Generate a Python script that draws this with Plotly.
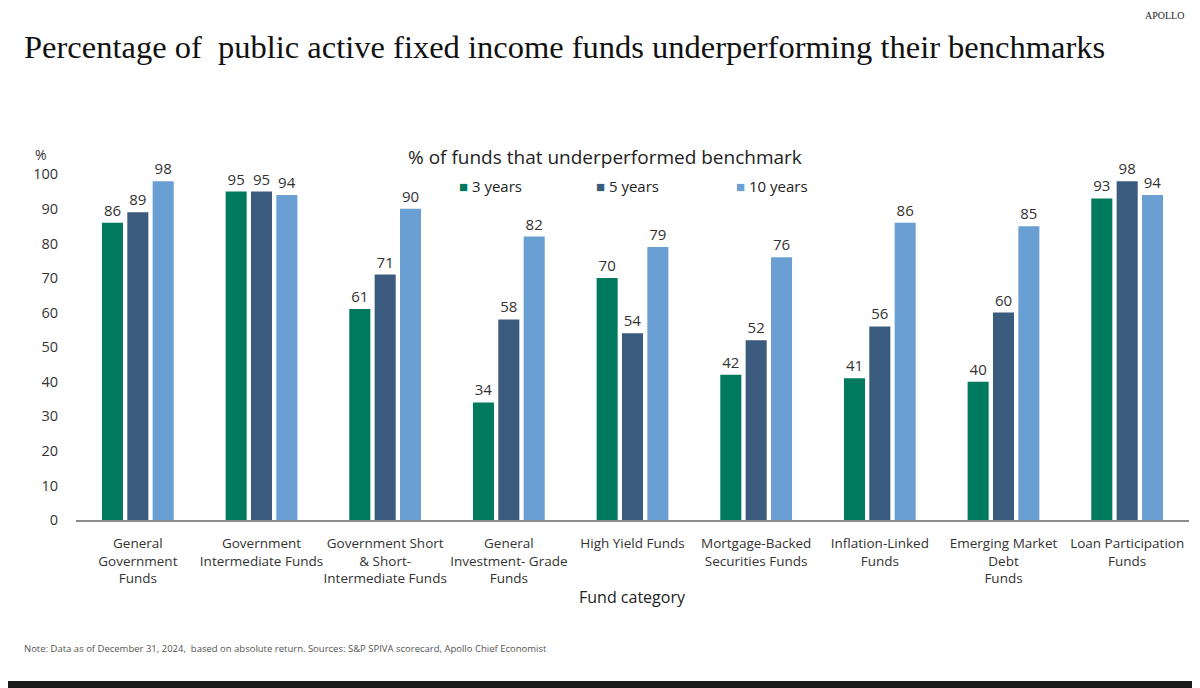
import plotly.graph_objects as go

categories = [
    "General<br>Government<br>Funds",
    "Government<br>Intermediate Funds",
    "Government Short<br>& Short-<br>Intermediate Funds",
    "General<br>Investment- Grade<br>Funds",
    "High Yield Funds",
    "Mortgage-Backed<br>Securities Funds",
    "Inflation-Linked<br>Funds",
    "Emerging Market<br>Debt<br>Funds",
    "Loan Participation<br>Funds",
]
series_names = ["3 years", "5 years", "10 years"]
vals_3y = [86, 95, 61, 34, 70, 42, 41, 40, 93]
vals_5y = [89, 95, 71, 58, 54, 52, 56, 60, 98]
vals_10y = [98, 94, 90, 82, 79, 76, 86, 85, 94]
colors = ["#007A5E", "#3A5A7E", "#6A9FD4"]
y_ticks = [0, 10, 20, 30, 40, 50, 60, 70, 80, 90, 100]

# page offset of the figure inside the browser page
OFF = 8
W, H = 1200, 688
# plot area in page pixels: x 76..1189, y 157..520
L = 76 - OFF
R = W - (1189 - OFF)
T = 157 - OFF
B = H - (520 - OFF)
PW, PH = W - L - R, H - T - B

def px(x):
    return (x - OFF - L) / PW

def py(y):
    return (H - B - (y - OFF)) / PH

SANS = "Open Sans"
fig = go.Figure()
for name, vals, col in zip(series_names, [vals_3y, vals_5y, vals_10y], colors):
    fig.add_trace(go.Bar(
        x=categories, y=vals, name=name, marker_color=col, marker_line_width=0,
        text=[str(v) for v in vals], textposition="outside", cliponaxis=False,
        textfont=dict(family=SANS, size=15, color="#333333"),
        showlegend=False,
    ))

fig.update_layout(
    width=W, height=H,
    margin=dict(l=L, r=R, t=T, b=B),
    paper_bgcolor="white", plot_bgcolor="white",
    barmode="group", bargap=0.385, bargroupgap=0.17,
    font=dict(family=SANS, color="#333333"),
    xaxis=dict(
        showline=True, linecolor="#8c8c8c", linewidth=1.5, showgrid=False,
        ticks="", tickfont=dict(family=SANS, size=13.5, color="#333333"),
        tickangle=0, ticklabelstandoff=10,
    ),
    yaxis=dict(
        range=[0, 105], tickvals=y_ticks, showgrid=False, zeroline=False,
        showline=False, ticks="", ticklabelstandoff=17,
        tickfont=dict(family=SANS, size=14.5, color="#333333"),
    ),
)

ann = []
ann.append(dict(text="Percentage of  public active fixed income funds underperforming their benchmarks",
                x=px(22), y=py(47), xref="paper", yref="paper", xanchor="left", yanchor="middle",
                showarrow=False, font=dict(family="Liberation Serif", size=32.5, color="#111111")))
ann.append(dict(text="APOLLO", x=px(1186), y=py(15), xref="paper", yref="paper",
                xanchor="right", yanchor="middle", showarrow=False,
                font=dict(family="Liberation Serif", size=10, color="#222222")))
ann.append(dict(text="% of funds that underperformed benchmark", x=px(605), y=py(157),
                xref="paper", yref="paper", xanchor="center", yanchor="middle", showarrow=False,
                font=dict(family=SANS, size=19, color="#222222")))
leg_x = [457, 594, 734]
for name, col, lx in zip(series_names, colors, leg_x):
    ann.append(dict(text=f"<span style='color:{col}'>■</span> {name}", x=px(lx), y=py(186),
                    xref="paper", yref="paper", xanchor="left", yanchor="middle", showarrow=False,
                    font=dict(family=SANS, size=15, color="#222222")))
ann.append(dict(text="%", x=px(41), y=py(155), xref="paper", yref="paper", xanchor="center",
                yanchor="middle", showarrow=False, font=dict(family=SANS, size=14, color="#333333")))
ann.append(dict(text="Fund category", x=0.5, y=py(597), xref="paper", yref="paper",
                xanchor="center", yanchor="middle", showarrow=False,
                font=dict(family=SANS, size=16, color="#222222")))
ann.append(dict(text="Note: Data as of December 31, 2024,  based on absolute return. Sources: S&P SPIVA scorecard, Apollo Chief Economist",
                x=px(22), y=py(648), xref="paper", yref="paper", xanchor="left", yanchor="middle",
                showarrow=False, font=dict(family=SANS, size=9.5, color="#555555")))
fig.update_layout(annotations=ann)

fig.add_shape(type="rect", xref="paper", yref="paper", x0=px(0), x1=px(1210),
              y0=py(700), y1=py(681), fillcolor="#1b1b1b", line_width=0, layer="above")

fig.write_html("out.html")
